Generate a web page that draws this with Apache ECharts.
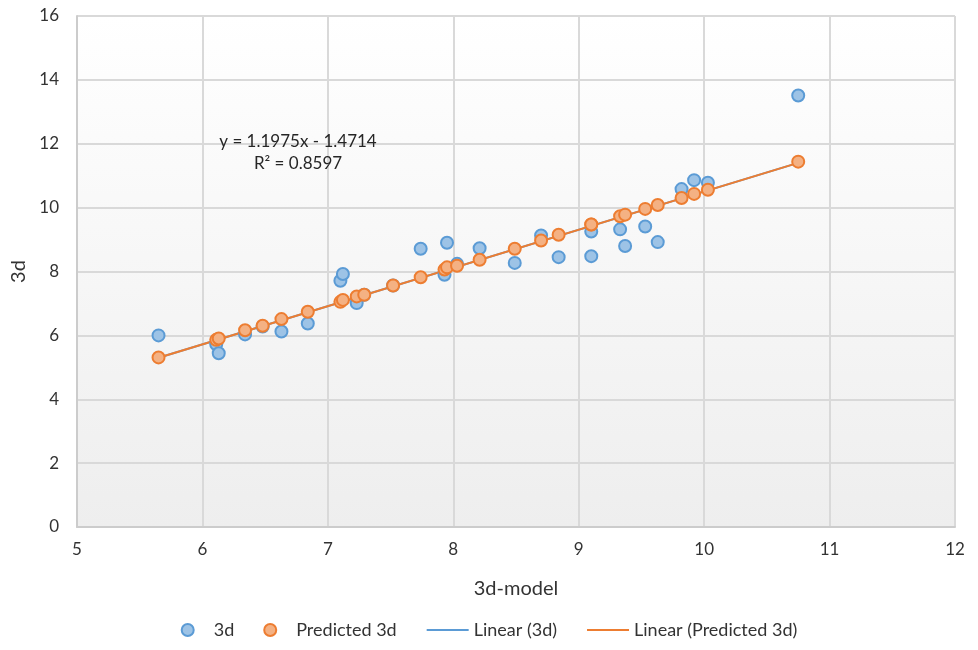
<!DOCTYPE html>
<html>
<head>
<meta charset="utf-8">
<script src="https://cdn.jsdelivr.net/npm/echarts@6/dist/echarts.min.js"></script>
<style>
  html, body { margin: 0; padding: 0; background: #fff; }
  #chart { width: 978px; height: 650px; }
</style>
</head>
<body>
<div id="chart"></div>
<script>
// values
const modelX = [5.65, 6.11, 6.13, 6.34, 6.48, 6.63, 6.84, 7.10, 7.12, 7.23, 7.29, 7.52, 7.74, 7.93, 7.95,
  8.03, 8.21, 8.49, 8.70, 8.84, 9.10, 9.10, 9.33, 9.37, 9.53, 9.63, 9.82, 9.92, 10.03, 10.75]
const actual3d = [6.00, 5.72, 5.44, 6.03, 6.28, 6.12, 6.37, 7.71, 7.92, 7.01, 7.27, 7.56, 8.71, 7.90, 8.90,
  8.24, 8.73, 8.27, 9.13, 8.45, 9.25, 8.48, 9.32, 8.80, 9.41, 8.92, 10.58, 10.86, 10.78, 13.51]
const predicted3d = [5.31, 5.86, 5.90, 6.16, 6.30, 6.51, 6.74, 7.05, 7.11, 7.22, 7.27, 7.56, 7.82, 8.06, 8.13,
  8.18, 8.37, 8.71, 8.97, 9.15, 9.47, 9.47, 9.73, 9.78, 9.96, 10.08, 10.30, 10.43, 10.56, 11.44]
// trendline end points (both fits coincide)
const trendActual = [[5.65, 5.30], [10.75, 11.40]]
const trendPredicted = [[5.65, 5.30], [10.75, 11.40]]
const equationText = 'y = 1.1975x - 1.4714\nR² = 0.8597'

const FONT = 'Lato, "Liberation Sans", sans-serif'
const TEXT = '#404040'

const chart = echarts.init(document.getElementById('chart'))

chart.setOption({
  animation: false,
  textStyle: { fontFamily: FONT, color: TEXT },
  grid: {
    left: 77, right: 23, top: 16, bottom: 123,
    show: true,
    borderWidth: 0,
    backgroundColor: new echarts.graphic.LinearGradient(0, 0, 0, 1, [
      { offset: 0, color: '#ffffff' },
      { offset: 1, color: '#eeeeee' }
    ])
  },
  legend: {
    bottom: 6,
    left: 'center',
    itemWidth: 42,
    itemHeight: 12,
    itemGap: 29,
    textStyle: { fontFamily: FONT, fontSize: 18, color: '#333' },
    data: [
      { name: '3d', icon: 'circle' },
      { name: 'Predicted 3d', icon: 'circle' },
      // hide the marker that line icons get by default
      { name: 'Linear (3d)', itemStyle: { opacity: 0 } },
      { name: 'Linear (Predicted 3d)', itemStyle: { opacity: 0 } }
    ]
  },
  xAxis: {
    type: 'value',
    min: 5, max: 12, interval: 1,
    name: '3d-model',
    nameLocation: 'middle',
    nameGap: 52,
    nameTextStyle: { fontSize: 20, color: '#333' },
    axisLine: { show: true, lineStyle: { color: '#cccccc', width: 2 } },
    axisTick: { show: false },
    axisLabel: { fontSize: 17, color: '#333', margin: 14 },
    splitLine: { show: true, lineStyle: { color: '#d9d9d9', width: 2 } }
  },
  yAxis: {
    type: 'value',
    min: 0, max: 16, interval: 2,
    name: '3d',
    nameLocation: 'middle',
    nameGap: 46,
    nameRotate: 90,
    nameTextStyle: { fontSize: 20, color: '#333' },
    axisLine: { show: true, lineStyle: { color: '#cccccc', width: 2 } },
    axisTick: { show: false },
    axisLabel: { fontSize: 17, color: '#333', margin: 18 },
    splitLine: { show: true, lineStyle: { color: '#d9d9d9', width: 2 } }
  },
  graphic: [{
    type: 'text',
    x: 298, y: 131,
    z: 100,
    style: {
      text: equationText,
      fontFamily: FONT,
      fontSize: 17,
      lineHeight: 22,
      fill: '#262626',
      align: 'center'
    }
  }],
  series: [
    {
      name: 'Linear (3d)',
      type: 'line',
      data: trendActual,
      symbol: 'none',
      lineStyle: { color: '#5b9bd5', width: 2 },
      itemStyle: { color: '#5b9bd5' },
      z: 1
    },
    {
      name: 'Linear (Predicted 3d)',
      type: 'line',
      data: trendPredicted,
      symbol: 'none',
      lineStyle: { color: '#ed7d31', width: 2 },
      itemStyle: { color: '#ed7d31' },
      z: 1
    },
    {
      name: '3d',
      type: 'scatter',
      symbolSize: 12,
      data: modelX.map((x, i) => [x, actual3d[i]]),
      itemStyle: { color: '#9dc3e6', borderColor: '#5b9bd5', borderWidth: 2, opacity: 1 },
      z: 3
    },
    {
      name: 'Predicted 3d',
      type: 'scatter',
      symbolSize: 12,
      data: modelX.map((x, i) => [x, predicted3d[i]]),
      itemStyle: { color: '#f4b183', borderColor: '#ed7d31', borderWidth: 2, opacity: 1 },
      z: 4
    }
  ]
})
</script>
</body>
</html>
